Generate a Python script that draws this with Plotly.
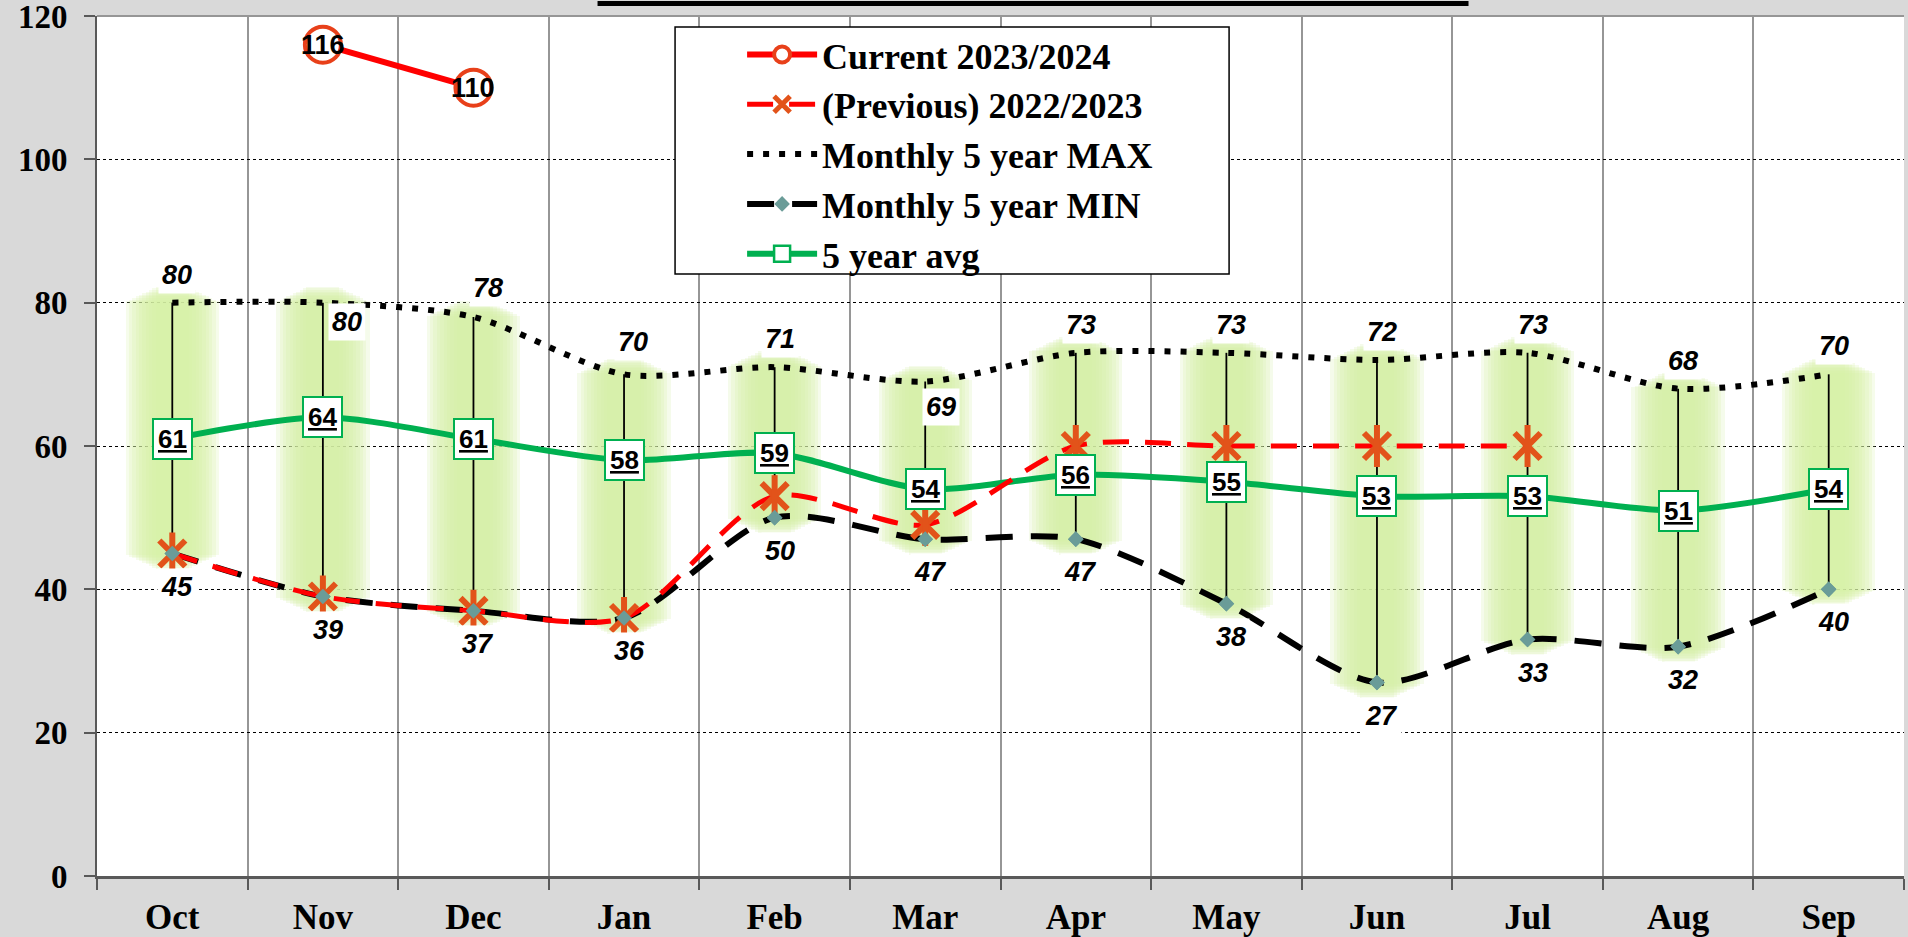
import plotly.graph_objects as go

months = ["Oct", "Nov", "Dec", "Jan", "Feb", "Mar", "Apr", "May", "Jun", "Jul", "Aug", "Sep"]
current = [None, 116, 110, None, None, None, None, None, None, None, None, None]
previous = [45, 39, 37, 36, 53, 49, 60, 60, 60, 60, None, None]
max5 = [80, 80, 78, 70, 71, 69, 73, 73, 72, 73, 68, 70]
min5 = [45, 39, 37, 36, 50, 47, 47, 38, 27, 33, 32, 40]
avg5 = [61, 64, 61, 58, 59, 54, 56, 55, 53, 53, 51, 54]
yticks = [0, 20, 40, 60, 80, 100, 120]

# label offsets (pixels) for the MAX data labels
max_off = [(5, -28), (24, 19), (15, -29), (9, -32), (5, -28), (16, 25),
           (5, -28), (5, -28), (5, -28), (5, -28), (5, -28), (5, -28)]
min_off = (5, 33)

SERIF = "Liberation Serif, Times New Roman, serif"
SANS = "Liberation Sans, Arial, sans-serif"
GLOW = "rgb(214,240,166)"

fig = go.Figure()

# soft glow bands behind high-low lines
n_layers = 10
for k in range(n_layers):
    w = 0.62 - k * (0.62 - 0.22) / (n_layers - 1)
    pad = 0.2 + k * 2.0 / (n_layers - 1)
    fig.add_trace(go.Bar(
        x=months, y=[mx - mn + 2 * pad for mx, mn in zip(max5, min5)],
        base=[mn - pad for mn in min5], width=w,
        marker=dict(color=GLOW, line=dict(width=0)), opacity=0.22,
        showlegend=False, hoverinfo="skip"))

# high-low lines
fig.add_trace(go.Scatter(
    x=months, y=min5, mode="markers", marker=dict(size=1, opacity=0),
    error_y=dict(type="data", symmetric=False,
                 array=[mx - mn for mx, mn in zip(max5, min5)],
                 arrayminus=[0] * len(min5), color="black", thickness=1.8, width=0),
    showlegend=False, hoverinfo="skip"))

# 5 year MAX (dotted)
fig.add_trace(go.Scatter(
    x=months, y=max5, mode="lines", name="Monthly 5 year MAX",
    line=dict(color="black", width=6, dash="6px,10px", shape="spline", smoothing=0.8),
    legendrank=3))

# 5 year avg
fig.add_trace(go.Scatter(
    x=months, y=avg5, mode="lines+markers", name="5 year avg",
    line=dict(color="#00b050", width=6, shape="spline", smoothing=0.8),
    marker=dict(symbol="square", size=22, color="white", line=dict(color="#00b050", width=2.5)),
    legendrank=5))

# 5 year MIN (dashed)
fig.add_trace(go.Scatter(
    x=months, y=min5, mode="lines+markers", name="Monthly 5 year MIN",
    line=dict(color="black", width=6, dash="27px,18px", shape="spline", smoothing=0.8),
    marker=dict(symbol="diamond", size=12, color="#6a9c98"),
    legendrank=4))

# previous 2022/2023
fig.add_trace(go.Scatter(
    x=months, y=previous, mode="lines+markers", name="(Previous) 2022/2023",
    line=dict(color="#ff0000", width=5, dash="26px,16px", shape="spline", smoothing=0.8),
    marker=dict(symbol="x-thin-open", size=26, color="#e2531a", line=dict(color="#e2531a", width=6)),
    legendrank=2))
fig.add_trace(go.Scatter(
    x=months, y=previous, mode="markers",
    marker=dict(symbol="line-ns-open", size=30, color="#e2531a", line=dict(color="#e2531a", width=6)),
    showlegend=False, hoverinfo="skip"))

# MIN markers on top
fig.add_trace(go.Scatter(
    x=months, y=min5, mode="markers",
    marker=dict(symbol="diamond", size=12, color="#6a9c98"),
    showlegend=False, hoverinfo="skip"))

# current 2023/2024
fig.add_trace(go.Scatter(
    x=months, y=current, mode="lines+markers", name="Current 2023/2024",
    line=dict(color="#ff0000", width=6),
    marker=dict(symbol="circle", size=36, color="white", line=dict(color="#e8401a", width=4)),
    legendrank=1))

annotations = []
for m, v, (dx, dy) in zip(months, max5, max_off):
    annotations.append(dict(x=m, y=v, xref="x", yref="y", text=f"<b><i>{v}</i></b>",
                            showarrow=False, xshift=dx, yshift=-dy, bgcolor="white",
                            borderpad=3, font=dict(family=SANS, size=27, color="black")))
for m, v in zip(months, min5):
    annotations.append(dict(x=m, y=v, xref="x", yref="y", text=f"<b><i>{v}</i></b>",
                            showarrow=False, xshift=min_off[0], yshift=-min_off[1], bgcolor="white",
                            borderpad=3, font=dict(family=SANS, size=27, color="black")))
for m, v in zip(months, avg5):
    annotations.append(dict(x=m, y=v, xref="x", yref="y", text=f"<b><u>{v}</u></b>",
                            showarrow=False, bgcolor="white", bordercolor="#00b050", borderwidth=2,
                            borderpad=4, font=dict(family=SANS, size=26, color="black")))
for m, v in zip(months, current):
    if v is not None:
        annotations.append(dict(x=m, y=v, xref="x", yref="y", text=f"<b>{v}</b>",
                                showarrow=False, font=dict(family=SANS, size=27, color="black")))

fig.update_layout(
    width=1908, height=937,
    margin=dict(l=97, r=4, t=16, b=61, autoexpand=False),
    paper_bgcolor="#d9d9d9", plot_bgcolor="white",
    barmode="overlay", bargap=0,
    annotations=annotations,
    legend=dict(x=0.357, y=0.99, xanchor="left", yanchor="top",
                bgcolor="rgba(0,0,0,0)", borderwidth=0,
                font=dict(family=SERIF, size=36, color="black", weight="bold"),
                itemwidth=70, tracegroupgap=0, traceorder="normal"),
    showlegend=True,
    shapes=[
        dict(type="line", xref="paper", yref="paper", x0=0, x1=1, y0=1, y1=1,
             line=dict(color="#969696", width=2)),
        dict(type="line", xref="paper", yref="paper", x0=0.277, x1=0.759, y0=1.0145, y1=1.0145,
             line=dict(color="black", width=5)),
        # legend frame
        dict(type="rect", xref="paper", yref="paper", x0=0.3199, x1=0.6265, y0=0.70, y1=0.9872,
             fillcolor="white", line=dict(color="black", width=1.5), layer="above"),
    ],
)
fig.update_xaxes(
    type="category", categoryorder="array", categoryarray=months,
    tickson="boundaries", ticks="outside", ticklen=11, tickcolor="#595959", tickwidth=1.5,
    showgrid=True, gridcolor="#969696", gridwidth=1.5,
    showline=True, linecolor="#595959", linewidth=3,
    tickfont=dict(family=SERIF, size=35, color="black", weight="bold"),
    ticklabelstandoff=8, range=[-0.5, 11.5], automargin=False)
fig.update_yaxes(
    range=[0, 120], tickvals=yticks, ticks="outside", ticklen=11, tickcolor="#595959", tickwidth=1.5,
    showgrid=True, gridcolor="black", gridwidth=1, griddash="dot",
    showline=True, linecolor="#595959", linewidth=2, zeroline=False,
    tickfont=dict(family=SERIF, size=33, color="black", weight="bold"),
    ticklabelstandoff=10, ticklabeloverflow="allow", automargin=False)

fig.write_html(
    "out.html",
    config={"displayModeBar": False},
    post_script="document.body.style.margin='0';document.body.style.background='#d9d9d9';",
)
